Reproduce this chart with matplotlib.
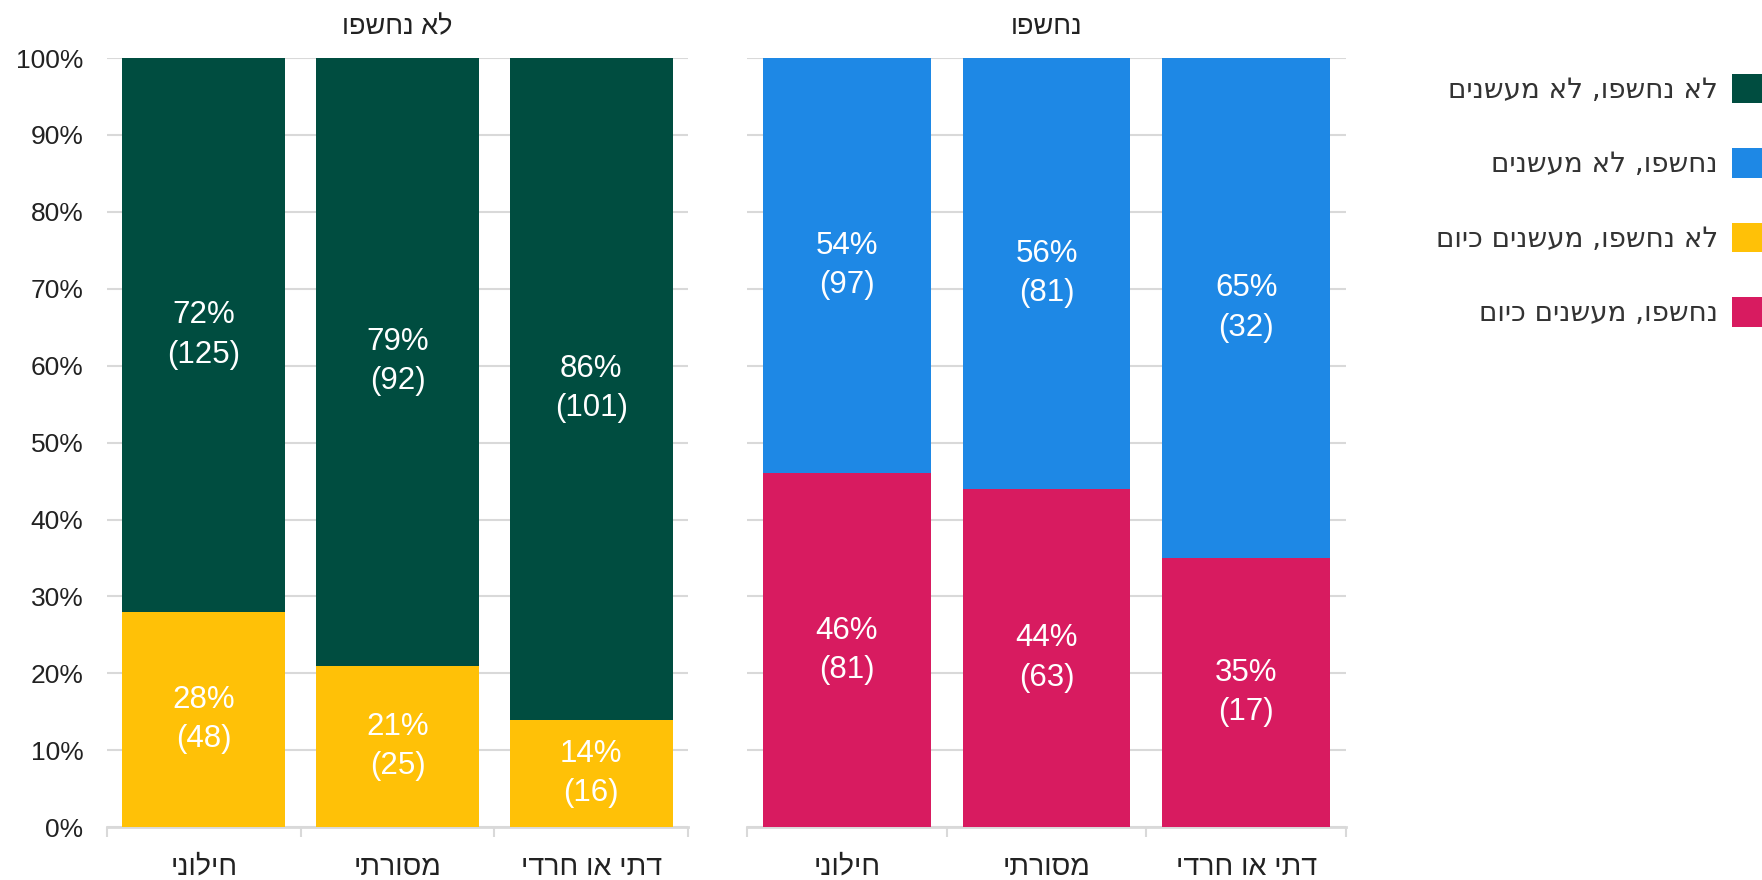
import matplotlib.pyplot as plt
import numpy as np
from matplotlib.patches import Patch

# --- Data (Hebrew, logical order) ---
categories = ['חילוני', 'מסורתי', 'דתי או חרדי']
panel_titles = ['לא נחשפו', 'נחשפו']

# not exposed panel
not_exp_smoke_pct = [28, 21, 14]
not_exp_smoke_n = [48, 25, 16]
not_exp_nosmoke_pct = [72, 79, 86]
not_exp_nosmoke_n = [125, 92, 101]

# exposed panel
exp_smoke_pct = [46, 44, 35]
exp_smoke_n = [81, 63, 17]
exp_nosmoke_pct = [54, 56, 65]
exp_nosmoke_n = [97, 81, 32]

legend_labels = ['לא נחשפו, לא מעשנים', 'נחשפו, לא מעשנים',
                 'לא נחשפו, מעשנים כיום', 'נחשפו, מעשנים כיום']
colors = ['#004D40', '#1E88E5', '#FFC107', '#D81B60']


def rtl(s):
    # matplotlib has no bidi support: reverse Hebrew for visual order
    return s[::-1]


plt.rcParams['font.family'] = ['Liberation Sans', 'DejaVu Sans']

fig = plt.figure(figsize=(17.62, 8.8), dpi=100)
ax1 = fig.add_axes([0.0607, 0.060, 0.3298, 0.874])
ax2 = fig.add_axes([0.4240, 0.060, 0.3400, 0.874], sharey=ax1)

x = np.arange(len(categories))
width = 0.84
grid_c = '#d9d9d9'
text_c = '#222222'


def draw_panel(ax, bottom_pct, bottom_n, top_pct, top_n, c_bottom, c_top, title):
    b1 = ax.bar(x, bottom_pct, width, color=c_bottom, zorder=3)
    b2 = ax.bar(x, top_pct, width, bottom=bottom_pct, color=c_top, zorder=3)
    for bars, pct, n in ((b1, bottom_pct, bottom_n), (b2, top_pct, top_n)):
        for rect, p, k in zip(bars, pct, n):
            cy = rect.get_y() + rect.get_height() / 2
            ax.text(rect.get_x() + rect.get_width() / 2, cy, f'{p}%\n({k})',
                    ha='center', va='center', color='white', fontsize=22.5,
                    linespacing=1.4, zorder=4)
    ax.set_xlim(-0.5, len(categories) - 0.5)
    ax.set_ylim(0, 100)
    ax.set_yticks(np.arange(0, 101, 10))
    ax.yaxis.grid(True, color=grid_c, linewidth=1.5, zorder=0)
    ax.set_axisbelow(True)
    for s in ('top', 'right', 'left'):
        ax.spines[s].set_visible(False)
    ax.spines['bottom'].set_color(grid_c)
    ax.spines['bottom'].set_linewidth(2)
    ax.set_xticks(x)
    ax.set_xticklabels([rtl(c) for c in categories], fontsize=20.5, color=text_c)
    ax.tick_params(axis='x', which='major', length=0, pad=20)
    ax.set_xticks(np.arange(-0.5, len(categories), 1.0), minor=True)
    ax.tick_params(axis='x', which='minor', length=7, width=1.5, color=grid_c)
    ax.set_title(rtl(title), fontsize=19.5, color=text_c, pad=17)


draw_panel(ax1, not_exp_smoke_pct, not_exp_smoke_n, not_exp_nosmoke_pct,
           not_exp_nosmoke_n, colors[2], colors[0], panel_titles[0])
draw_panel(ax2, exp_smoke_pct, exp_smoke_n, exp_nosmoke_pct,
           exp_nosmoke_n, colors[3], colors[1], panel_titles[1])

ax1.set_yticklabels([f'{v}%' for v in range(0, 101, 10)], fontsize=19, color=text_c)
ax1.tick_params(axis='y', length=0, pad=17)
ax2.tick_params(axis='y', length=0, labelleft=False)

handles = [Patch(facecolor=c) for c in colors]
leg = fig.legend(handles, [rtl(l) for l in legend_labels], loc='upper right',
                 bbox_to_anchor=(1.0, 0.916), frameon=False, markerfirst=False,
                 handlelength=1.08, handleheight=1.25,
                 handletextpad=0.5, labelspacing=1.6, borderpad=0,
                 borderaxespad=0, prop={'family': ['DejaVu Sans'], 'size': 20})
for t in leg.get_texts():
    t.set_color('#333333')

fig.savefig('out.png', dpi=100)
